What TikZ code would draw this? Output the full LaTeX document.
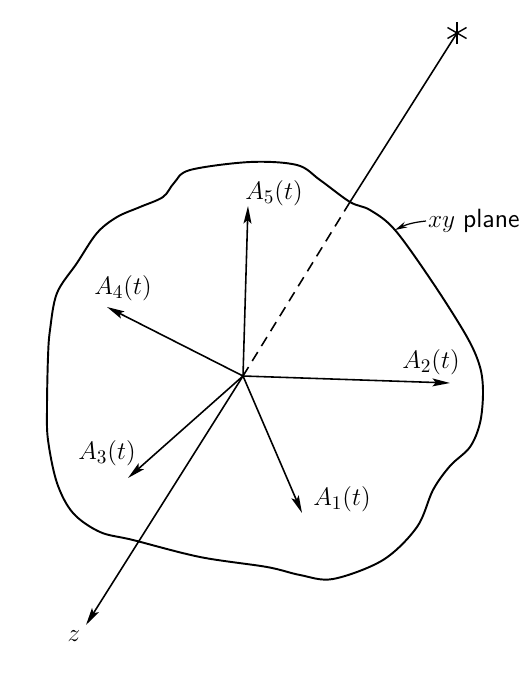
\documentclass[tikz,border=0pt]{standalone}
\usepackage{tikz}
\usetikzlibrary{arrows.meta, positioning, calc}

\begin{document}
\begin{tikzpicture}[x=0.02cm, y=-0.02cm,
    vec/.style={line width=0.9pt, -{Stealth[length=10pt, width=4.5pt, inset=2pt]}},
    lbl/.style={font=\fontsize{15}{18}\selectfont}]

    \useasboundingbox (0,0) rectangle (522,680);

    % ORIGIN, AXIS ENDS AND VECTOR TIPS
    \coordinate (o) at (243,376);
    \coordinate (star) at (457,33);
    \coordinate (pierce) at (350,202);
    \coordinate (zend) at (86,625);
    \coordinate (a1) at (302,513);
    \coordinate (a2) at (450,383);
    \coordinate (a3) at (128,478);
    \coordinate (a4) at (107,307);
    \coordinate (a5) at (248,206);
    \coordinate (edge) at (395,230);

    % THE xy PLANE
    \draw[line width=1.1pt] plot[smooth cycle, tension=0.55] coordinates {
        (250,162) (297,165) (320,180) (350,202) (370,210) (395,230)
        (433,283) (467,337) (480,367) (483,393) (480,423) (470,447)
        (450,466) (433,490) (417,527) (383,560) (333,579) (300,575)
        (267,567) (200,557) (133,540) (100,532) (73,513) (57,483)
        (48,440) (47,407) (48,357) (50,330) (57,293) (77,263)
        (97,233) (117,217) (140,207) (163,197) (174,183) (190,170)};

    % AXIS THROUGH THE PLANE
    \draw[line width=0.9pt, dash pattern=on 6pt off 4pt] (o) -- (pierce);
    \draw[line width=0.9pt] (pierce) -- (star);
    \foreach \dx/\dy in {0/11, 9.5/5.5, 9.5/-5.5}
        \draw[line width=0.8pt] ($(star)+(\dx,\dy)$) -- ($(star)-(\dx,\dy)$);
    \draw[vec] (o) -- (zend);
    \node[lbl] (zlabel) at (74,636) {$z$};

    % VECTORS
    \draw[vec] (o) -- (a1);
    \draw[vec] (o) -- (a2);
    \draw[vec] (o) -- (a3);
    \draw[vec] (o) -- (a4);
    \draw[vec] (o) -- (a5);
    \node[lbl] (l1) at (342,499) {$A_1(t)$};
    \node[lbl] (l2) at (431,362) {$A_2(t)$};
    \node[lbl] (l3) at (107,453) {$A_3(t)$};
    \node[lbl] (l4) at (123,288) {$A_4(t)$};
    \node[lbl] (l5) at (274,193) {$A_5(t)$};

    % PLANE LABEL
    \node[lbl, anchor=west, inner sep=1pt] (xy) at (426,221) {$xy$ \textsf{plane}};
    \draw[line width=0.7pt, -{Stealth[length=7pt, width=3.5pt]}]
        (xy.west) to[bend right=10] (edge);

\end{tikzpicture}
\end{document}
